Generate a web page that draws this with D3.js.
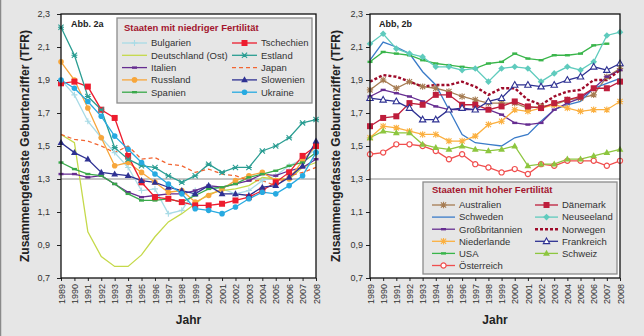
<!DOCTYPE html>
<html><head><meta charset="utf-8">
<script src="https://cdn.jsdelivr.net/npm/d3@7"></script>
<style>body{margin:0;background:#e6e6e6}svg{display:block;font-family:"Liberation Sans",Arial,sans-serif}</style>
</head><body><svg id="c" width="644" height="336"></svg>
<script>
const years = [1989,1990,1991,1992,1993,1994,1995,1996,1997,1998,1999,2000,2001,2002,2003,2004,2005,2006,2007,2008];
const yTicks = [0.7,0.9,1.1,1.3,1.5,1.7,1.9,2.1,2.3];

// Abb. 2a – niedrige Fertilität
const bulgarien   = [1.90,1.81,1.65,1.55,1.46,1.37,1.23,1.24,1.09,1.11,1.23,1.26,1.24,1.21,1.23,1.29,1.32,1.38,1.42,1.48];
const deutschOst  = [1.57,1.52,0.98,0.83,0.77,0.77,0.84,0.95,1.04,1.09,1.15,1.21,1.23,1.24,1.26,1.31,1.30,1.30,1.37,1.40];
const italien     = [1.33,1.33,1.31,1.32,1.27,1.22,1.19,1.20,1.21,1.21,1.23,1.26,1.25,1.27,1.29,1.33,1.32,1.35,1.37,1.42];
const russland    = [2.01,1.90,1.73,1.55,1.38,1.40,1.34,1.28,1.22,1.23,1.16,1.20,1.24,1.29,1.32,1.34,1.29,1.30,1.41,1.50];
const spanien     = [1.40,1.36,1.33,1.32,1.27,1.21,1.17,1.17,1.18,1.16,1.20,1.24,1.25,1.27,1.31,1.33,1.35,1.38,1.40,1.46];
const tschechien  = [1.88,1.89,1.86,1.72,1.67,1.44,1.28,1.19,1.18,1.16,1.14,1.14,1.15,1.17,1.19,1.23,1.28,1.34,1.44,1.50];
const estland     = [2.22,2.05,1.80,1.72,1.49,1.42,1.38,1.37,1.32,1.28,1.32,1.39,1.34,1.37,1.37,1.47,1.50,1.55,1.64,1.66];
const japan       = [1.57,1.54,1.53,1.50,1.46,1.50,1.42,1.43,1.39,1.38,1.34,1.36,1.33,1.32,1.29,1.29,1.26,1.32,1.34,1.37];
const slowenien   = [1.52,1.46,1.42,1.34,1.33,1.32,1.29,1.28,1.25,1.23,1.21,1.26,1.21,1.21,1.20,1.25,1.26,1.31,1.38,1.53];
const ukraine     = [1.90,1.85,1.77,1.68,1.56,1.48,1.40,1.33,1.27,1.21,1.12,1.11,1.09,1.13,1.18,1.22,1.21,1.26,1.32,1.46];

// Abb. 2b – hohe Fertilität
const australien  = [1.84,1.90,1.85,1.89,1.86,1.85,1.83,1.80,1.78,1.76,1.76,1.76,1.73,1.74,1.75,1.78,1.79,1.81,1.92,1.97];
const schweden    = [2.02,2.13,2.10,2.06,1.95,1.87,1.72,1.57,1.52,1.51,1.50,1.55,1.57,1.65,1.72,1.75,1.77,1.85,1.88,1.91];
const grossbrit   = [1.80,1.84,1.82,1.80,1.77,1.74,1.72,1.72,1.72,1.72,1.69,1.64,1.63,1.64,1.72,1.76,1.79,1.85,1.92,1.96];
const niederlande = [1.55,1.62,1.61,1.59,1.57,1.57,1.53,1.53,1.56,1.63,1.65,1.72,1.71,1.73,1.75,1.73,1.71,1.72,1.72,1.77];
const usa         = [2.01,2.07,2.06,2.05,2.02,2.00,1.99,1.98,1.97,2.00,2.01,2.06,2.03,2.02,2.05,2.05,2.06,2.11,2.12,null];
const oesterreich = [1.45,1.46,1.51,1.51,1.50,1.47,1.42,1.45,1.39,1.37,1.34,1.36,1.33,1.39,1.38,1.41,1.41,1.41,1.38,1.41];
const daenemark   = [1.62,1.67,1.68,1.76,1.75,1.81,1.81,1.75,1.75,1.72,1.74,1.77,1.74,1.73,1.76,1.78,1.80,1.85,1.85,1.89];
const neuseeland  = [2.12,2.18,2.09,2.06,2.04,1.98,1.98,1.96,1.97,1.89,1.97,1.98,1.97,1.89,1.94,1.98,1.96,2.01,2.17,2.19];
const norwegen    = [1.89,1.93,1.92,1.89,1.86,1.87,1.87,1.89,1.86,1.81,1.85,1.85,1.78,1.75,1.80,1.83,1.84,1.90,1.90,1.96];
const frankreich  = [1.79,1.78,1.77,1.73,1.66,1.66,1.72,1.73,1.72,1.77,1.79,1.87,1.87,1.86,1.87,1.90,1.92,1.98,1.96,2.00];
const schweiz     = [1.55,1.59,1.58,1.58,1.51,1.49,1.48,1.50,1.48,1.47,1.48,1.50,1.38,1.39,1.39,1.42,1.42,1.44,1.46,1.48];

const seriesA = [
  {name:"Bulgarien", v:bulgarien, c:"#a9dbe6", m:"plus"},
  {name:"Deutschland (Ost)", v:deutschOst, c:"#c5d94a", m:"none"},
  {name:"Italien", v:italien, c:"#662d91", m:"dash"},
  {name:"Russland", v:russland, c:"#f7a63b", m:"circle"},
  {name:"Spanien", v:spanien, c:"#39a94a", m:"dash"},
  {name:"Tschechien", v:tschechien, c:"#ed1c2e", m:"square"},
  {name:"Estland", v:estland, c:"#2a9d92", m:"x"},
  {name:"Japan", v:japan, c:"#f26532", m:"none", dash:"4,3"},
  {name:"Slowenien", v:slowenien, c:"#2e3192", m:"tri"},
  {name:"Ukraine", v:ukraine, c:"#27aae1", m:"circle"}
];
const seriesB = [
  {name:"Australien", v:australien, c:"#a67c52", m:"asterisk"},
  {name:"Schweden", v:schweden, c:"#3a7bc8", m:"none"},
  {name:"Großbritannien", v:grossbrit, c:"#662d91", m:"dash"},
  {name:"Niederlande", v:niederlande, c:"#fbb040", m:"asterisk"},
  {name:"USA", v:usa, c:"#39b54a", m:"dash"},
  {name:"Österreich", v:oesterreich, c:"#f04e4e", m:"circleOpen"},
  {name:"Dänemark", v:daenemark, c:"#be1e3c", m:"square"},
  {name:"Neuseeland", v:neuseeland, c:"#5fcbbd", m:"diamond"},
  {name:"Norwegen", v:norwegen, c:"#9e0b2a", m:"none", dash:"3,2", w:2.4},
  {name:"Frankreich", v:frankreich, c:"#2e3192", m:"triOpen"},
  {name:"Schweiz", v:schweiz, c:"#8dc63f", m:"tri"}
];

const svg = d3.select("#c");
svg.append("rect").attr("x",0).attr("y",0).attr("width",644).attr("height",336).attr("fill","#e6e6e6");
svg.append("line").attr("x1",0.5).attr("x2",0.5).attr("y1",0).attr("y2",336).attr("stroke","#8a8a8a").attr("stroke-width",1.5);

function marker(g, type, x, y, c) {
  const s = g.append("g").attr("transform",`translate(${x},${y})`);
  if (type==="circle") s.append("circle").attr("r",2.8).attr("fill",c);
  else if (type==="circleOpen") s.append("circle").attr("r",2.6).attr("fill","#fff").attr("stroke",c).attr("stroke-width",1.2);
  else if (type==="square") s.append("rect").attr("x",-3).attr("y",-3).attr("width",6).attr("height",6).attr("fill",c);
  else if (type==="tri") s.append("path").attr("d","M0,-3.6L3.4,2.4L-3.4,2.4Z").attr("fill",c);
  else if (type==="triOpen") s.append("path").attr("d","M0,-3.4L3.2,2.3L-3.2,2.3Z").attr("fill","#fff").attr("stroke",c).attr("stroke-width",1.1);
  else if (type==="diamond") s.append("path").attr("d","M0,-3.3L3.3,0L0,3.3L-3.3,0Z").attr("fill",c);
  else if (type==="dash") s.append("rect").attr("x",-2.5).attr("y",-1.2).attr("width",5).attr("height",2.4).attr("fill",c);
  else if (type==="plus") s.append("path").attr("d","M-3,0H3M0,-3V3").attr("stroke",c).attr("stroke-width",1.1);
  else if (type==="x") s.append("path").attr("d","M-2.6,-2.6L2.6,2.6M-2.6,2.6L2.6,-2.6M-3,0H3").attr("stroke",c).attr("stroke-width",1.1);
  else if (type==="asterisk") s.append("path").attr("d","M-2.6,-2.6L2.6,2.6M-2.6,2.6L2.6,-2.6M-3.2,0H3.2M0,-3.2V3.2").attr("stroke",c).attr("stroke-width",1.1);
}

function panel(cfg) {
  const x = d3.scalePoint().domain(years).range([cfg.x0, cfg.x1]);
  const y = d3.scaleLinear().domain([0.7,2.3]).range([cfg.y1, cfg.y0]);
  const g = svg.append("g");
  g.append("rect").attr("x",cfg.x0).attr("y",cfg.y0).attr("width",cfg.x1-cfg.x0).attr("height",cfg.y1-cfg.y0).attr("fill","#fff");
  g.append("line").attr("x1",cfg.x0).attr("x2",cfg.x1).attr("y1",y(1.3)).attr("y2",y(1.3)).attr("stroke","#8c8c8c").attr("stroke-width",1);

  const ya = g.append("g").attr("transform",`translate(${cfg.x0},0)`)
    .call(d3.axisLeft(y).tickValues(yTicks).tickSize(4).tickPadding(cfg.pad).tickFormat(d=>d.toFixed(1).replace(".",",")));
  ya.select(".domain").remove();
  ya.selectAll("line").attr("stroke","#222");
  ya.selectAll("text").attr("font-size",9).attr("fill","#333").attr("font-family","Liberation Sans, Arial");

  const xa = g.append("g").attr("transform",`translate(0,${cfg.y1})`)
    .call(d3.axisBottom(x).tickSize(3).tickPadding(5));
  xa.select(".domain").remove();
  xa.selectAll("line").attr("stroke","#222");
  xa.selectAll("text").attr("font-size",9).attr("fill","#333").attr("font-family","Liberation Sans, Arial")
    .attr("transform","rotate(-90)").attr("text-anchor","end").attr("x",-6).attr("y",0).attr("dy","0.35em");

  const line = d3.line().defined(d=>d!=null).x((d,i)=>x(years[i])).y(d=>y(d));
  cfg.series.forEach(s=>{
    g.append("path").datum(s.v).attr("d",line).attr("fill","none").attr("stroke",s.c)
      .attr("stroke-width",s.w||1.3).attr("stroke-dasharray",s.dash||null);
  });
  cfg.series.forEach(s=>{
    if (s.m==="none") return;
    s.v.forEach((v,i)=>{ if(v!=null) marker(g, s.m, x(years[i]), y(v), s.c); });
  });

  g.append("rect").attr("x",cfg.x0).attr("y",cfg.y0).attr("width",cfg.x1-cfg.x0).attr("height",cfg.y1-cfg.y0)
    .attr("fill","none").attr("stroke","#111").attr("stroke-width",1.3);

  g.append("text").attr("x",cfg.abbX).attr("y",27).attr("font-size",9).attr("font-weight","bold").attr("fill","#222").text(cfg.abb);

  g.append("text").attr("transform",`translate(${cfg.titleX},${(cfg.y0+cfg.y1)/2}) rotate(-90)`)
    .attr("text-anchor","middle").attr("dy","0.35em").attr("font-size",12).attr("font-weight","bold").attr("fill","#222")
    .text("Zusammengefasste Geburtenziffer (TFR)");
  g.append("text").attr("x",(cfg.x0+cfg.x1)/2).attr("y",324).attr("text-anchor","middle")
    .attr("font-size",12).attr("font-weight","bold").attr("fill","#222").text("Jahr");

  // legend
  const L = cfg.leg;
  const lg = g.append("g");
  lg.append("rect").attr("x",L.x).attr("y",L.y).attr("width",L.w).attr("height",L.h)
    .attr("fill","#e6e6e6").attr("stroke","#8c8c8c").attr("stroke-width",1.3);
  lg.append("text").attr("x",L.tx).attr("y",L.ty).attr("font-size",9.5).attr("font-weight","bold").attr("fill","#a3162e").text(L.title);
  cfg.series.forEach((s,i)=>{
    const col = i < L.perCol ? 0 : 1;
    const row = col===0 ? i : i-L.perCol;
    const yy = L.ry0 + row*L.rh;
    const lx0 = L.cols[col], lx1 = lx0 + L.lw;
    lg.append("line").attr("x1",lx0).attr("x2",lx1).attr("y1",yy).attr("y2",yy).attr("stroke",s.c)
      .attr("stroke-width",s.w||1.3).attr("stroke-dasharray",s.dash||null);
    if (s.m!=="none") marker(lg, s.m, (lx0+lx1)/2, yy, s.c);
    lg.append("text").attr("x",lx1+4).attr("y",yy).attr("dy","0.35em").attr("font-size",9.5).attr("fill","#333").text(s.name);
  });
}

panel({x0:61,x1:316,y0:14,y1:278,pad:7,titleX:25,abb:"Abb. 2a",abbX:71,series:seriesA,
  leg:{x:117,y:18,w:195,h:85,tx:124,ty:31,title:"Staaten mit niedriger Fertilität",perCol:5,ry0:43,rh:12.3,cols:[122,232],lw:25}});
panel({x0:370,x1:620,y0:14,y1:278,pad:3,titleX:336,abb:"Abb, 2b",abbX:379,series:seriesB,
  leg:{x:423,y:182,w:194,h:92,tx:432,ty:193,title:"Staaten mit hoher Fertilität",perCol:6,ry0:205,rh:12.1,cols:[432,535],lw:23}});
</script></body></html>
